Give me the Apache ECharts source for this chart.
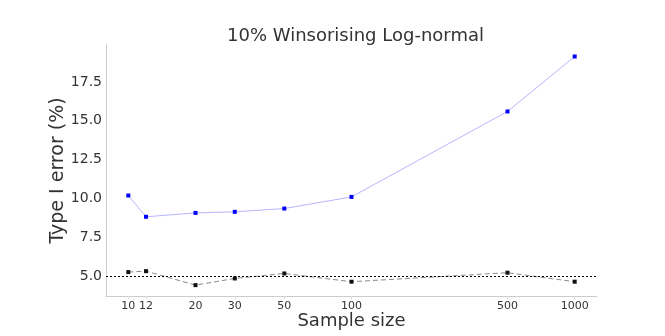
<!DOCTYPE html>
<html>
<head>
<meta charset="utf-8">
<script src="https://cdn.jsdelivr.net/npm/echarts@6/dist/echarts.min.js"></script>
<style>html,body{margin:0;padding:0;background:#fff;}#c{width:665px;height:336px;}</style>
</head>
<body>
<div id="c"></div>
<script>
const sampleSizes = [10, 12, 20, 30, 50, 100, 500, 1000];
const blueSeries = [10.19, 8.82, 9.07, 9.14, 9.35, 10.10, 15.60, 19.14];
const blackSeries = [5.26, 5.32, 4.42, 4.85, 5.17, 4.64, 5.22, 4.64];
const xTickLabels = [10, 12, 20, 30, 50, 100, 500, 1000];
const yTickLabels = [5.0, 7.5, 10.0, 12.5, 15.0, 17.5];
const referenceLevel = 5.0;

const chart = echarts.init(document.getElementById('c'), null, {renderer: 'canvas'});
const font = 'DejaVu Sans';
chart.setOption({
  animation: false,
  backgroundColor: '#fff',
  title: {
    text: '10% Winsorising Log-normal',
    left: 222, top: 22,
    textStyle: {fontFamily: font, fontSize: 18, fontWeight: 'normal', color: '#333'}
  },
  grid: {left: 106, right: 68, top: 45, bottom: 40, outerBoundsMode: 'none', containLabel: false},
  xAxis: {
    type: 'log', logBase: 10,
    min: Math.pow(10, 0.9), max: Math.pow(10, 3.1),
    name: 'Sample size', nameLocation: 'middle', nameGap: 16, nameMoveOverlap: false,
    nameTextStyle: {fontFamily: font, fontSize: 18, color: '#333'},
    axisLine: {lineStyle: {color: '#ccc', width: 1}},
    axisTick: {show: true, customValues: xTickLabels, length: 3, lineStyle: {color: '#ddd'}},
    axisLabel: {customValues: xTickLabels, fontFamily: font, fontSize: 11, color: '#333', margin: 5,
      formatter: v => String(Math.round(v))},
    splitLine: {show: false}
  },
  yAxis: {
    type: 'value', min: 3.72, max: 19.88,
    name: 'Type I error (%)', nameLocation: 'middle', nameGap: 38, nameRotate: 90, nameMoveOverlap: false,
    nameTextStyle: {fontFamily: font, fontSize: 19, color: '#333'},
    axisLine: {show: true, lineStyle: {color: '#ccc', width: 1}},
    axisTick: {show: false, customValues: yTickLabels},
    axisLabel: {customValues: yTickLabels, fontFamily: font, fontSize: 14, color: '#333', margin: 4,
      formatter: v => Number(v).toFixed(1)},
    splitLine: {show: false}
  },
  series: [
    {
      type: 'line',
      data: sampleSizes.map((s, i) => [s, blueSeries[i]]),
      symbol: 'rect', symbolSize: 4,
      itemStyle: {color: '#0000ff'},
      lineStyle: {color: 'rgba(110,110,255,0.5)', width: 1}
    },
    {
      type: 'line',
      data: sampleSizes.map((s, i) => [s, blackSeries[i]]),
      symbol: 'rect', symbolSize: 4,
      itemStyle: {color: '#111'},
      lineStyle: {color: 'rgba(60,60,60,0.6)', width: 1, type: [5, 3]},
      markLine: {
        silent: true, symbol: 'none', label: {show: false},
        lineStyle: {color: '#000', width: 1, type: [2, 2]},
        data: [{yAxis: referenceLevel}]
      }
    }
  ]
});
</script>
</body>
</html>
